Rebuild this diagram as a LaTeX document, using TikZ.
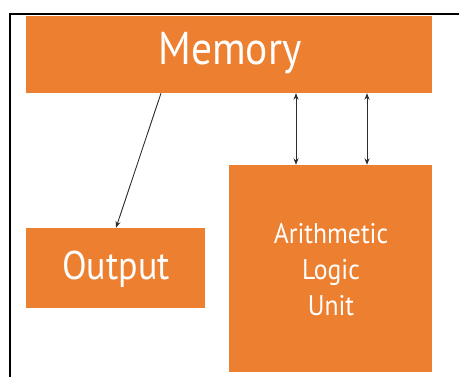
\documentclass[tikz,border=0pt]{standalone}
\usepackage{fontspec}
\setmainfont{PT Sans}
\newfontfamily\boxfont[FakeStretch=0.9]{PT Sans}
\usetikzlibrary{arrows.meta}
\definecolor{boxorange}{RGB}{237,127,48}
\definecolor{arrowgray}{RGB}{45,45,45}
\tikzset{
  orangebox/.style={fill=boxorange, draw=none, inner sep=0pt, text=white, font=\boxfont, align=center},
  link/.style={draw=arrowgray, line width=0.9pt},
  tip/.style={-{Stealth[length=6.5pt,width=5pt]}},
  bothtips/.style={{Stealth[length=6.5pt,width=5pt]}-{Stealth[length=6.5pt,width=5pt]}}
}
\begin{document}
\begin{tikzpicture}[x=1pt,y=1pt]
\useasboundingbox (0,0) rectangle (459,377);
% frame
\coordinate (fb) at (9.5,0);
\coordinate (fc) at (9.5,363);
\coordinate (fr) at (459,363);
\draw[line width=2pt, black] (fb) -- (fc) -- (fr);
% boxes
\node[orangebox, minimum width=406pt, minimum height=77pt] (mem) at (229,322.5) {};
\node[font=\boxfont\fontsize{46}{50}\selectfont, text=white, anchor=base, inner sep=0pt] (memtext) at (230,312) {Memory};
\node[orangebox, minimum width=179pt, minimum height=80pt] (out) at (115.5,109) {};
\node[font=\boxfont\fontsize{40}{44}\selectfont, text=white, anchor=base, inner sep=0pt] (outtext) at (116,97) {Output};
\node[orangebox, minimum width=203pt, minimum height=207pt] (alu) at (330.5,108.5) {};
\node[font=\boxfont\fontsize{28.5}{36}\selectfont, text=white, align=center, anchor=center, inner sep=0pt] (alutext) at (331,107.5) {Arithmetic\\Logic\\Unit};
% connectors
\coordinate (a1) at (296,0);
\coordinate (a2) at (367,0);
\coordinate (s1) at (161,0);
\coordinate (t1) at (116,0);
\draw[link, bothtips] (mem.south -| a1) -- (alu.north -| a1);
\draw[link, bothtips] (mem.south -| a2) -- (alu.north -| a2);
\draw[link, tip] (mem.south -| s1) -- (out.north -| t1);
\end{tikzpicture}
\end{document}
